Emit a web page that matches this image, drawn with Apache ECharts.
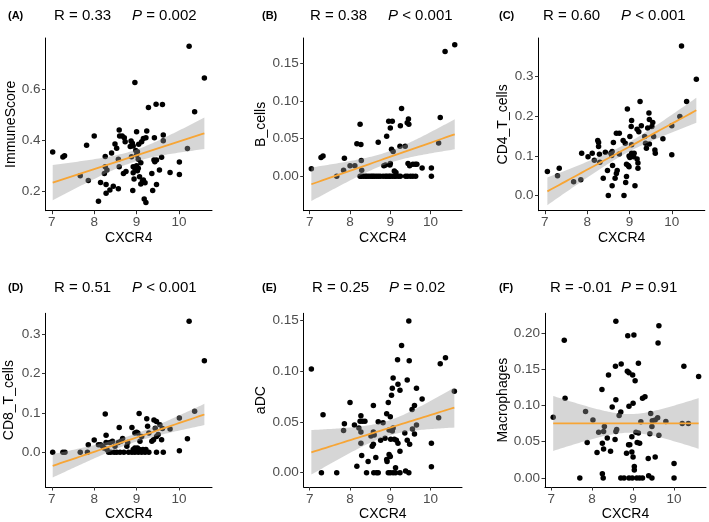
<!DOCTYPE html>
<html><head><meta charset="utf-8">
<script src="https://cdn.jsdelivr.net/npm/echarts@6/dist/echarts.min.js"></script>
<style>html,body{margin:0;padding:0;background:#fff}#c{width:709px;height:522px}</style>
</head><body><div id="c"></div>
<script>
// ---------- data (x = CXCR4, y = score / cell fraction) ----------
const xTicks = [7, 8, 9, 10];
const immuneScorePts = [[7.02,0.354],[7.26,0.334],[7.30,0.339],[7.67,0.261],[7.82,0.380],[7.86,0.242],[8.00,0.416],[8.10,0.161],[8.15,0.234],[8.26,0.336],[8.28,0.227],[8.28,0.192],[8.26,0.296],[8.30,0.283],[8.24,0.270],[8.37,0.205],[8.41,0.350],[8.45,0.220],[8.49,0.385],[8.53,0.368],[8.57,0.210],[8.59,0.440],[8.57,0.325],[8.59,0.296],[8.60,0.416],[8.66,0.416],[8.71,0.410],[8.69,0.270],[8.73,0.394],[8.75,0.277],[8.85,0.375],[8.87,0.397],[8.90,0.388],[8.92,0.377],[8.88,0.335],[8.92,0.296],[8.96,0.290],[8.92,0.273],[8.94,0.248],[8.96,0.626],[8.91,0.203],[9.00,0.433],[9.02,0.355],[9.00,0.342],[9.04,0.325],[9.00,0.300],[9.04,0.290],[9.02,0.280],[9.07,0.257],[9.10,0.229],[9.12,0.394],[9.16,0.407],[9.22,0.410],[9.16,0.244],[9.18,0.170],[9.22,0.156],[9.24,0.436],[9.20,0.233],[9.28,0.528],[9.36,0.270],[9.38,0.203],[9.42,0.410],[9.41,0.322],[9.43,0.316],[9.47,0.322],[9.46,0.541],[9.47,0.227],[9.54,0.283],[9.61,0.540],[9.59,0.333],[9.63,0.420],[9.63,0.398],[9.79,0.274],[10.01,0.315],[10.01,0.266],[10.20,0.367],[10.24,0.768],[10.37,0.511],[10.60,0.643],[9.05,0.384],[9.10,0.312],[8.98,0.360],[9.14,0.240]];
const bCellsPts = [[7.04,0.010],[7.28,0.025],[7.33,0.027],[7.67,0.000],[7.84,0.008],[7.86,0.024],[8.00,0.014],[8.12,0.014],[8.17,0.043],[8.27,0.042],[8.25,0.069],[8.28,0.021],[8.29,0.008],[8.25,0],[8.28,0],[8.33,0],[8.38,0],[8.42,0],[8.47,0],[8.52,0],[8.56,0],[8.60,0],[8.65,0],[8.70,0],[8.75,0],[8.82,0],[8.88,0],[8.92,0],[8.97,0],[9.00,0],[9.05,0],[9.10,0],[9.14,0],[9.20,0],[9.25,0],[9.38,0],[9.43,0],[9.50,0],[9.56,0],[9.63,0],[10.02,0],[8.70,0.045],[8.84,0.014],[8.88,0.015],[8.91,0.053],[8.96,0.073],[9.05,0.073],[9.00,0.064],[9.00,0.017],[8.99,0.015],[9.03,0.036],[9.07,0.033],[9.10,0.007],[9.14,0.005],[9.24,0.040],[9.25,0.067],[9.28,0.090],[9.37,0.040],[9.42,0.071],[9.45,0.076],[9.46,0.069],[9.44,0.017],[9.48,0.014],[9.56,0.016],[9.62,0.016],[9.66,0.016],[9.79,0.011],[10.02,0.011],[10.20,0.044],[10.24,0.078],[10.36,0.166],[10.60,0.175]];
const cd4Pts = [[7.06,0.061],[7.30,0.050],[7.34,0.069],[7.68,0.035],[7.85,0.040],[7.87,0.107],[8.02,0.098],[8.12,0.107],[8.17,0.089],[8.25,0.139],[8.27,0.134],[8.27,0.124],[8.29,0.104],[8.30,0.084],[8.38,0.044],[8.43,0.109],[8.48,0.063],[8.50,0.000],[8.56,0.107],[8.58,0.101],[8.59,0.111],[8.59,0.025],[8.60,0.076],[8.62,0.134],[8.66,0.044],[8.69,0.056],[8.71,0.063],[8.69,0.157],[8.76,0.157],[8.76,0.105],[8.85,0.139],[8.87,0.000],[8.90,0.132],[8.91,0.033],[8.93,0.048],[8.93,0.079],[8.97,0.076],[8.95,0.218],[8.99,0.100],[9.01,0.096],[9.05,0.107],[9.07,0.101],[9.11,0.107],[9.01,0.149],[9.04,0.174],[9.05,0.189],[8.99,0.073],[9.05,0.128],[9.10,0.098],[9.13,0.025],[9.18,0.167],[9.18,0.092],[9.20,0.082],[9.20,0.069],[9.22,0.161],[9.25,0.237],[9.28,0.176],[9.36,0.149],[9.38,0.132],[9.40,0.119],[9.43,0.170],[9.47,0.192],[9.46,0.208],[9.47,0.130],[9.53,0.174],[9.55,0.184],[9.57,0.149],[9.60,0.115],[9.61,0.107],[9.79,0.143],[10.00,0.103],[10.00,0.176],[10.19,0.199],[10.23,0.377],[10.35,0.237],[10.58,0.293]];
const cd8Pts = [[7.02,0],[7.26,0],[7.31,0],[7.67,0],[7.84,0],[7.86,0.019],[8.00,0.031],[8.10,0.019],[8.15,0.019],[8.20,0.015],[8.26,0.097],[8.28,0.043],[8.28,0.025],[8.23,0.011],[8.30,0.007],[8.34,0],[8.39,0],[8.47,0],[8.53,0],[8.61,0],[8.70,0],[8.81,0],[8.89,0],[8.96,0],[9.04,0],[9.12,0],[9.20,0],[9.29,0],[9.47,0],[9.63,0],[8.37,0.025],[8.43,0.028],[8.49,0.015],[8.59,0.063],[8.57,0.025],[8.63,0.028],[8.67,0.035],[8.77,0.015],[8.79,0.025],[8.89,0.063],[8.92,0.007],[8.96,0.011],[8.99,0.007],[9.02,0.011],[9.07,0.007],[9.10,0.003],[9.15,0.007],[9.19,0.003],[9.22,0.007],[8.96,0.049],[9.00,0.051],[9.03,0.049],[9.06,0.098],[9.08,0.028],[9.12,0.040],[9.24,0.085],[9.26,0.066],[9.29,0.049],[9.36,0.028],[9.40,0.032],[9.41,0.082],[9.47,0.078],[9.44,0.061],[9.47,0.040],[9.51,0.045],[9.55,0.070],[9.61,0.060],[9.59,0.032],[9.79,0.059],[10.01,0.087],[10.01,0.004],[10.20,0.034],[10.24,0.332],[10.37,0.104],[10.60,0.232]];
const aDCPts = [[7.04,0.102],[7.29,0],[7.33,0.057],[7.67,0],[7.84,0.0415],[7.86,0.048],[8.00,0.069],[8.11,0.047],[8.17,0.0065],[8.22,0.044],[8.25,0.0506],[8.27,0.056],[8.31,0.0506],[8.27,0.040],[8.27,0.029],[8.29,0.017],[8.37,0.0506],[8.41,0],[8.45,0.011],[8.52,0.036],[8.55,0.026],[8.58,0.028],[8.58,0.066],[8.58,0.040],[8.60,0.037],[8.59,0],[8.66,0],[8.70,0],[8.64,0.015],[8.70,0.050],[8.76,0.032],[8.82,0.049],[8.87,0.034],[8.91,0.058],[8.91,0.013],[8.92,0.011],[8.95,0.069],[8.95,0],[9.00,0],[9.07,0],[9.13,0],[8.97,0.042],[8.97,0.018],[9.00,0.016],[9.00,0.055],[9.03,0.076],[9.05,0.083],[9.07,0.093],[9.05,0.041],[9.01,0.033],[9.10,0.033],[9.07,0.044],[9.13,0.005],[9.15,0.032],[9.18,0.111],[9.19,0.087],[9.19,0.029],[9.24,0.081],[9.24,0.021],[9.24,0],[9.28,0.125],[9.36,0.039],[9.38,0.0016],[9.42,0.032],[9.42,0.091],[9.46,0],[9.46,0.149],[9.47,0.110],[9.48,0.028],[9.54,0.062],[9.55,0.043],[9.60,0.066],[9.60,0.038],[9.65,0.083],[9.65,0.047],[9.79,0.0725],[10.02,0.029],[10.02,0.006],[10.20,0.054],[10.24,0.107],[10.37,0.113],[10.59,0.080]];
const macrophagesPts = [[7.05,0.0837],[7.32,0.190],[7.34,0.110],[7.70,0],[7.84,0.0916],[7.88,0.049],[8.02,0.080],[8.12,0.035],[8.16,0.063],[8.28,0.064],[8.24,0.122],[8.25,0.048],[8.25,0.006],[8.27,0],[8.28,0.040],[8.30,0.071],[8.37,0.055],[8.40,0.142],[8.45,0.037],[8.49,0.098],[8.56,0.053],[8.57,0.154],[8.58,0.108],[8.58,0.216],[8.58,0.064],[8.60,0.067],[8.66,0.086],[8.71,0.157],[8.70,0.091],[8.70,0],[8.78,0],[8.90,0],[8.98,0],[9.09,0],[9.16,0],[9.23,0],[9.46,0],[8.86,0.147],[8.90,0.145],[8.99,0.142],[8.87,0.196],[9.02,0.197],[8.89,0.046],[8.90,0.099],[9.00,0.103],[8.97,0.057],[8.84,0.034],[8.97,0.036],[9.00,0.029],[9.03,0.016],[9.03,0.011],[9.05,0.134],[9.07,0.063],[9.13,0.062],[8.92,0.046],[9.10,0.049],[9.16,0.048],[9.13,0.158],[9.19,0.0775],[9.23,0.110],[9.29,0.112],[9.37,0.027],[9.54,0.029],[9.41,0.061],[9.63,0.059],[9.43,0.089],[9.47,0.079],[9.46,0.071],[9.38,0.003],[9.54,0.080],[9.60,0.083],[9.61,0.186],[9.63,0.210],[9.80,0.078],[10.00,0.020],[10.00,0],[10.24,0.154],[10.20,0.075],[10.35,0.075],[10.60,0.140]];

const panelLetters = ['(A)','(B)','(C)','(D)','(E)','(F)'];
const yNames = ['ImmuneScore','B_cells','CD4_T_cells','CD8_T_cells','aDC','Macrophages'];
const rTexts = ['R = 0.33','R = 0.38','R = 0.60','R = 0.51','R = 0.25','R = -0.01'];
const pTexts = ['= 0.002','< 0.001','< 0.001','< 0.001','= 0.02','= 0.91'];
const yTicksA = [0.2, 0.4, 0.6];
const yTicksB = [0, 0.05, 0.10, 0.15];
const yTicksC = [0, 0.1, 0.2, 0.3];
const yTicksD = [0, 0.1, 0.2, 0.3];
const yTicksE = [0, 0.05, 0.10, 0.15];
const yTicksF = [0, 0.05, 0.10, 0.15, 0.20];
const yRangeA = [0.124, 0.80];
const yRangeB = [-0.046, 0.184];
const yRangeC = [-0.038, 0.397];
const yRangeD = [-0.088, 0.352];
const yRangeE = [-0.014, 0.1566];
const yRangeF = [-0.0124, 0.227];
const xRange = [6.85, 10.78];

// ---------- layout (pixels) ----------
const layout = [
  {left:45.5, top:38,    width:166.5, height:172.7, yGap:25,  titleTop:3.5, letterX:3,   rX:49,  pX:127, dec:1},
  {left:303.7,top:38,    width:158.3, height:172.7, yGap:36,  titleTop:3.5, letterX:257, rX:305, pX:383, dec:2},
  {left:538.5,top:38,    width:166.3, height:172.7, yGap:28.5,titleTop:3.5, letterX:494, rX:538, pX:616, dec:1},
  {left:45.5, top:313.3, width:166.5, height:174.4, yGap:29,  titleTop:275.5,letterX:3,  rX:49,  pX:127, dec:1},
  {left:303.7,top:313.3, width:158.3, height:174.4, yGap:34,  titleTop:275.5,letterX:257,rX:307, pX:384, dec:2},
  {left:545,  top:313.3, width:161,   height:174.4, yGap:33.5,titleTop:275.5,letterX:494,rX:545, pX:616, dec:2}
];
const ptsList = [immuneScorePts,bCellsPts,cd4Pts,cd8Pts,aDCPts,macrophagesPts];
const yTicksList = [yTicksA,yTicksB,yTicksC,yTicksD,yTicksE,yTicksF];
const yRangeList = [yRangeA,yRangeB,yRangeC,yRangeD,yRangeE,yRangeF];

// ---------- linear fit with 95% CI (as geom_smooth(method='lm')) ----------
function lmFit(pts){
  const n = pts.length;
  let mx=0,my=0; pts.forEach(p=>{mx+=p[0];my+=p[1];}); mx/=n; my/=n;
  let sxx=0,sxy=0; pts.forEach(p=>{sxx+=(p[0]-mx)**2; sxy+=(p[0]-mx)*(p[1]-my);});
  const b=sxy/sxx, a=my-b*mx;
  let sse=0; pts.forEach(p=>{sse+=(p[1]-a-b*p[0])**2;});
  const s=Math.sqrt(sse/(n-2)), df=n-2, z=1.959964;
  const t = z + (z**3+z)/(4*df) + (5*z**5+16*z**3+3*z)/(96*df*df);
  let xmin=Infinity,xmax=-Infinity; pts.forEach(p=>{xmin=Math.min(xmin,p[0]);xmax=Math.max(xmax,p[0]);});
  const line=[], band=[];
  const N=80;
  for(let i=0;i<N;i++){
    const x=xmin+(xmax-xmin)*i/(N-1);
    const yh=a+b*x;
    const se=s*Math.sqrt(1/n+(x-mx)**2/sxx);
    line.push([x,yh]); band.push([x,yh-t*se,yh+t*se]);
  }
  return {line,band};
}

const FONT = '"Liberation Sans", Arial, Helvetica, sans-serif';
const grid=[],xAxis=[],yAxis=[],series=[],title=[];
layout.forEach((L,i)=>{
  grid.push({left:L.left,top:L.top,width:L.width,height:L.height,containLabel:false});
  xAxis.push({type:'value',gridIndex:i,min:xRange[0],max:xRange[1],
    name:'CXCR4',nameLocation:'middle',nameGap:20,
    nameTextStyle:{color:'#000',fontSize:14,fontFamily:FONT},
    axisLine:{show:true,onZero:false,lineStyle:{color:'#000',width:1}},
    axisTick:{show:true,length:3.5,customValues:xTicks,lineStyle:{color:'#333'}},
    axisLabel:{customValues:xTicks,color:'#4d4d4d',fontSize:13.5,margin:5,fontFamily:FONT},
    splitLine:{show:false}});
  const dec=L.dec;
  yAxis.push({type:'value',gridIndex:i,min:yRangeList[i][0],max:yRangeList[i][1],
    name:yNames[i],nameLocation:'middle',nameGap:L.yGap,
    nameTextStyle:{color:'#000',fontSize:14,fontFamily:FONT},
    axisLine:{show:true,onZero:false,lineStyle:{color:'#000',width:1}},
    axisTick:{show:true,length:3.5,customValues:yTicksList[i],lineStyle:{color:'#333'}},
    axisLabel:{customValues:yTicksList[i],color:'#4d4d4d',fontSize:13.5,margin:5,fontFamily:FONT,
      formatter:v=>Number(v).toFixed(dec)},
    splitLine:{show:false}});
  const pts=ptsList[i];
  const fit=lmFit(pts);
  series.push({type:'scatter',xAxisIndex:i,yAxisIndex:i,data:pts,symbolSize:5.5,
    itemStyle:{color:'#000',opacity:1},z:2,silent:true});
  const band=fit.band;
  series.push({type:'custom',xAxisIndex:i,yAxisIndex:i,data:band,z:3,silent:true,
    encode:{x:0,y:[1,2]},
    renderItem:function(params,api){
      if(params.dataIndex!==0) return null;
      const top=band.map(d=>api.coord([d[0],d[2]]));
      const bot=band.slice().reverse().map(d=>api.coord([d[0],d[1]]));
      return {type:'polygon',shape:{points:top.concat(bot)},style:{fill:'rgba(153,153,153,0.4)'}};
    }});
  series.push({type:'line',xAxisIndex:i,yAxisIndex:i,data:fit.line,showSymbol:false,z:4,silent:true,
    lineStyle:{color:'#F7A535',width:1.8}});
  title.push({text:panelLetters[i],left:L.letterX,top:L.titleTop+2,
    textStyle:{fontSize:11,fontWeight:'bold',color:'#000',fontFamily:FONT}});
  title.push({text:rTexts[i],left:L.rX,top:L.titleTop,
    textStyle:{fontSize:15,fontWeight:'normal',color:'#000',fontFamily:FONT}});
  title.push({text:'{i|P} '+pTexts[i],left:L.pX,top:L.titleTop,
    textStyle:{fontSize:15,fontWeight:'normal',color:'#000',fontFamily:FONT,
      rich:{i:{fontStyle:'italic',fontSize:15,color:'#000',fontFamily:FONT}}}});
});

const chart=echarts.init(document.getElementById('c'),null,{renderer:'canvas'});
chart.setOption({animation:false,backgroundColor:'#fff',title,grid,xAxis,yAxis,series});
</script>
</body></html>
